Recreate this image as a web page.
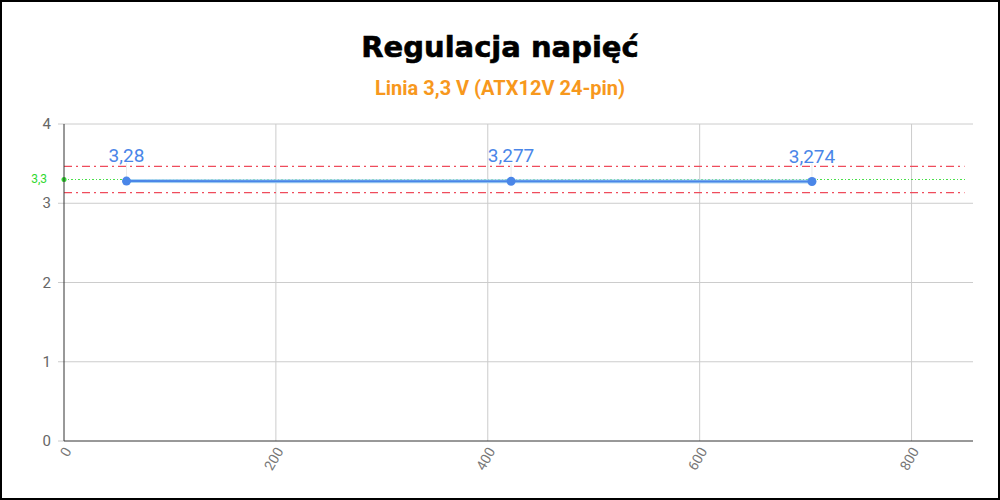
<!DOCTYPE html>
<html>
<head>
<meta charset="utf-8">
<script src="https://cdn.jsdelivr.net/npm/d3@7"></script>
<style>
  body { margin: 0; background: #fff; }
  svg { display: block; }
</style>
</head>
<body>
<script>
// chart data
const loads = [59, 422, 706];
const voltages = [3.28, 3.277, 3.274];
const labels = ["3,28", "3,277", "3,274"];
const nominal = 3.3;
const limits = [3.465, 3.135];
const xTicks = [0, 200, 400, 600, 800];
const yTicks = [0, 1, 2, 3, 4];

const width = 1000;
const height = 500;
const margin = { top: 124, right: 27, bottom: 59, left: 64 };

const svg = d3
  .select("body")
  .append("svg")
  .attr("width", width)
  .attr("height", height);

// frame
svg
  .append("rect")
  .attr("x", 1)
  .attr("y", 1)
  .attr("width", width - 2)
  .attr("height", height - 2)
  .attr("fill", "#fff")
  .attr("stroke", "#000")
  .attr("stroke-width", 2);

const x = d3
  .scaleLinear()
  .domain([0, 858])
  .range([margin.left, width - margin.right]);
const y = d3
  .scaleLinear()
  .domain([0, 4])
  .range([height - margin.bottom, margin.top]);

// titles
svg
  .append("text")
  .attr("x", width / 2)
  .attr("y", 57)
  .attr("text-anchor", "middle")
  .style("font-family", "DejaVu Sans")
  .style("font-weight", "bold")
  .style("font-size", "29px")
  .style("stroke", "#000")
  .style("stroke-width", 0.6)
  .text("Regulacja napięć");

svg
  .append("text")
  .attr("x", width / 2)
  .attr("y", 95)
  .attr("text-anchor", "middle")
  .style("font-family", "Roboto")
  .style("font-weight", "bold")
  .style("font-size", "20px")
  .attr("fill", "#f7981d")
  .text("Linia 3,3 V (ATX12V 24-pin)");

// gridlines
svg
  .append("g")
  .selectAll("line")
  .data(yTicks.filter((d) => d > 0))
  .join("line")
  .attr("x1", margin.left - 6)
  .attr("x2", width - margin.right)
  .attr("y1", (d) => y(d))
  .attr("y2", (d) => y(d))
  .attr("stroke", "#ccc");

svg
  .append("g")
  .selectAll("line")
  .data(xTicks.filter((d) => d > 0))
  .join("line")
  .attr("x1", (d) => x(d))
  .attr("x2", (d) => x(d))
  .attr("y1", margin.top)
  .attr("y2", y(0))
  .attr("stroke", "#ccc");

// y tick labels
svg
  .append("g")
  .selectAll("text")
  .data(yTicks)
  .join("text")
  .attr("x", margin.left - 13)
  .attr("y", (d) => y(d) + 5)
  .attr("text-anchor", "end")
  .style("font-family", "Roboto")
  .style("font-size", "15px")
  .attr("fill", "#666")
  .text((d) => d);

// small tick at y=0
svg
  .append("line")
  .attr("x1", margin.left - 6)
  .attr("x2", margin.left)
  .attr("y1", y(0))
  .attr("y2", y(0))
  .attr("stroke", "#ccc");

// x tick labels, rotated
svg
  .append("g")
  .selectAll("text")
  .data(xTicks)
  .join("text")
  .attr("transform", (d) => `translate(${x(d) + 8},${y(0) + 10}) rotate(-60)`)
  .attr("text-anchor", "end")
  .style("font-family", "Roboto")
  .style("font-size", "14px")
  .attr("fill", "#777")
  .text((d) => d);

// limit lines
svg
  .append("g")
  .selectAll("line")
  .data(limits)
  .join("line")
  .attr("x1", x(0))
  .attr("x2", x(850))
  .attr("y1", (d) => y(d))
  .attr("y2", (d) => y(d))
  .attr("stroke", "#ef4c5c")
  .attr("stroke-width", 1.2)
  .attr("stroke-dasharray", "8,4,2,4");

// nominal line
svg
  .append("line")
  .attr("x1", x(0))
  .attr("x2", x(850))
  .attr("y1", y(nominal))
  .attr("y2", y(nominal))
  .attr("stroke", "#49e049")
  .attr("stroke-width", 1.3)
  .attr("shape-rendering", "crispEdges")
  .attr("stroke-dasharray", "1.5,2");

svg
  .append("circle")
  .attr("cx", x(0))
  .attr("cy", y(nominal))
  .attr("r", 2.5)
  .attr("fill", "#2fd82f");

svg
  .append("text")
  .attr("x", margin.left - 17)
  .attr("y", y(nominal) + 4)
  .attr("text-anchor", "end")
  .style("font-family", "Roboto")
  .style("font-size", "12px")
  .attr("fill", "#2fd82f")
  .text("3,3");

// axes lines
svg
  .append("line")
  .attr("x1", x(0))
  .attr("x2", x(0))
  .attr("y1", margin.top)
  .attr("y2", y(0))
  .attr("stroke", "#333");

svg
  .append("line")
  .attr("x1", x(0))
  .attr("x2", width - margin.right)
  .attr("y1", y(0))
  .attr("y2", y(0))
  .attr("stroke", "#333");

// series
const pts = loads.map((d, i) => [d, voltages[i]]);
const line = d3
  .line()
  .x((d) => x(d[0]))
  .y((d) => y(d[1]));

svg
  .append("path")
  .datum(pts)
  .attr("d", line)
  .attr("fill", "none")
  .attr("stroke", "#a9d4f2")
  .attr("stroke-width", 4);

svg
  .append("path")
  .datum(pts)
  .attr("d", line)
  .attr("fill", "none")
  .attr("stroke", "#4a86e8")
  .attr("stroke-width", 2);

// thin leader lines to labels
svg
  .append("g")
  .selectAll("line")
  .data(pts)
  .join("line")
  .attr("x1", (d) => x(d[0]))
  .attr("x2", (d) => x(d[0]))
  .attr("y1", (d) => y(d[1]))
  .attr("y2", (d) => y(d[1]) - 18)
  .attr("stroke", "#ddd")
  .attr("stroke-width", 0.6);

svg
  .append("g")
  .selectAll("circle")
  .data(pts)
  .join("circle")
  .attr("cx", (d) => x(d[0]))
  .attr("cy", (d) => y(d[1]))
  .attr("r", 4.5)
  .attr("fill", "#4a86e8");

svg
  .append("g")
  .selectAll("text")
  .data(pts)
  .join("text")
  .attr("x", (d) => x(d[0]))
  .attr("y", (d) => y(d[1]) - 19)
  .attr("text-anchor", "middle")
  .style("font-family", "Roboto")
  .style("font-size", "19px")
  .attr("fill", "#4a86e8")
  .text((d, i) => labels[i]);
</script>
</body>
</html>
